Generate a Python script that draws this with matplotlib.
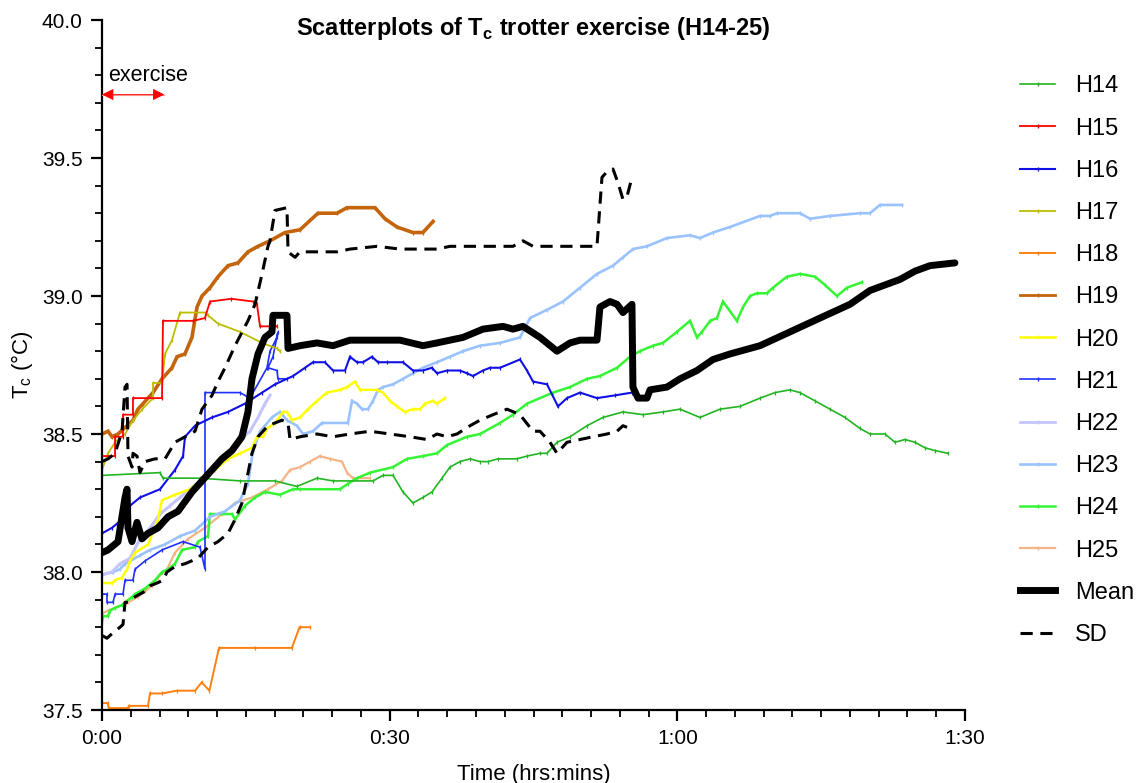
import matplotlib
matplotlib.use("Agg")
import matplotlib.pyplot as plt
from matplotlib.ticker import MultipleLocator, FuncFormatter
from matplotlib.lines import Line2D

plt.rcParams['font.family'] = ['Liberation Sans', 'DejaVu Sans']
plt.rcParams['mathtext.fontset'] = 'custom'
plt.rcParams['mathtext.rm'] = 'Liberation Sans'
plt.rcParams['mathtext.bf'] = 'Liberation Sans:bold'

# ---------------- data (time in minutes, temperature in degC) ----------------
h14_t = [0, 6.05, 6.36, 10.22, 14.39, 18.04, 20.33, 22.42, 24.09, 28.26, 29.30, 30.35, 31.39, 32.43, 33.47,
         34.41, 35.46, 36.29, 37.33, 38.38, 39.42, 40.25, 41.30, 43.28, 44.32, 45.68, 46.41, 47.45, 48.81,
         50.58, 52.25, 54.33, 56.42, 58.50, 60.28, 62.36, 64.45, 66.53, 68.62, 70.18, 71.75, 72.79, 74.36,
         75.92, 77.48, 79.05, 80.09, 81.65, 82.70, 83.74, 84.78, 85.83, 86.87, 88.22]
h14_v = [38.35, 38.36, 38.34, 38.34, 38.33, 38.33, 38.31, 38.34, 38.33, 38.33, 38.35, 38.35, 38.29, 38.25, 38.27,
         38.29, 38.34, 38.38, 38.40, 38.41, 38.40, 38.40, 38.41, 38.41, 38.42, 38.43, 38.43, 38.47, 38.49,
         38.53, 38.56, 38.58, 38.57, 38.58, 38.59, 38.56, 38.59, 38.60, 38.63, 38.65, 38.66, 38.65, 38.62,
         38.59, 38.56, 38.52, 38.50, 38.50, 38.47, 38.48, 38.47, 38.45, 38.44, 38.43]

h15_t = [0, 0, 1.36, 1.36, 2.19, 2.19, 3.23, 3.23, 6.26, 6.36, 9.49, 10.74, 11.26, 13.5, 15.75, 16.16, 16.48, 18.25]
h15_v = [38.20, 38.42, 38.42, 38.49, 38.49, 38.57, 38.57, 38.63, 38.63, 38.91, 38.91, 38.92, 38.98, 38.99,
         38.98, 38.97, 38.89, 38.89]

h16_t = [0, 1.04, 2.09, 2.92, 3.96, 6.05, 7.61, 8.45, 8.66, 9.70, 11.47, 13.14, 14.91, 16.69, 18.04, 19.92,
         21.17, 22.00, 23.25, 24.09, 25.34, 25.86, 26.59, 27.22, 28.16, 28.78, 29.72, 31.39, 32.43, 33.47,
         34.41, 34.93, 35.98, 37.33, 38.06, 38.69, 39.73, 40.46, 41.51, 43.59, 44.32, 44.95, 46.41, 47.55,
         48.49, 49.85, 51.62, 53.50, 55.27]
h16_v = [38.14, 38.16, 38.19, 38.24, 38.27, 38.30, 38.37, 38.42, 38.49, 38.53, 38.56, 38.58, 38.61, 38.65,
         38.68, 38.71, 38.74, 38.76, 38.76, 38.73, 38.73, 38.78, 38.76, 38.76, 38.78, 38.76, 38.76, 38.76,
         38.73, 38.73, 38.74, 38.72, 38.73, 38.73, 38.72, 38.71, 38.73, 38.74, 38.74, 38.77, 38.73, 38.69,
         38.68, 38.60, 38.63, 38.65, 38.63, 38.64, 38.65]

h17_t = [0, 0.63, 1.36, 2.40, 3.23, 4.2, 5.32, 5.32, 6.26, 6.57, 7.30, 8.13, 10.74, 11.05, 12.10, 14.39,
         16.69, 18.25, 18.56]
h17_v = [38.37, 38.43, 38.47, 38.50, 38.55, 38.59, 38.63, 38.685, 38.685, 38.79, 38.84, 38.94, 38.94, 38.93,
         38.90, 38.87, 38.83, 38.81, 38.80]

h18_t = [0, 0.6, 0.7, 2.7, 2.8, 4.8, 5.0, 6.3, 7.8, 9.7, 10.4, 11.2, 12.2, 16.0, 19.8, 20.6, 21.7]
h18_v = [37.525, 37.525, 37.507, 37.507, 37.515, 37.515, 37.56, 37.56, 37.57, 37.57, 37.60, 37.57, 37.725,
         37.725, 37.725, 37.80, 37.80]

h19_t = [0, 0.63, 1.04, 1.67, 3.23, 3.75, 4.28, 5.32, 6.26, 7.30, 7.82, 8.65, 9.38, 9.91, 10.43, 11.26, 12.10,
         13.14, 14.18, 15.22, 16.27, 17.52, 19.08, 20.65, 22.52, 24.51, 25.55, 28.47, 29.51, 30.76, 32.43,
         33.47, 34.52]
h19_v = [38.50, 38.51, 38.49, 38.50, 38.55, 38.59, 38.61, 38.65, 38.70, 38.74, 38.78, 38.79, 38.85, 38.96,
         39.00, 39.03, 39.07, 39.11, 39.12, 39.16, 39.18, 39.20, 39.23, 39.24, 39.30, 39.30, 39.32, 39.32,
         39.28, 39.25, 39.23, 39.23, 39.27]

h20_t = [0, 1.04, 1.36, 2.09, 2.61, 2.92, 3.44, 4.80, 5.84, 6.26, 7.61, 9.18, 10.22, 11.78, 13.14, 14.39,
         15.64, 16.16, 16.79, 17.21, 18.04, 18.88, 19.29, 19.81, 20.65, 21.48, 22.42, 23.46, 24.82, 25.55,
         26.38, 26.90, 28.68, 29.30, 30.03, 30.76, 31.60, 32.43, 33.16, 33.68, 34.52, 34.93, 35.77]
h20_v = [37.96, 37.96, 37.97, 37.98, 38.01, 38.04, 38.07, 38.10, 38.19, 38.26, 38.28, 38.30, 38.33, 38.37,
         38.41, 38.43, 38.45, 38.49, 38.49, 38.52, 38.54, 38.58, 38.58, 38.55, 38.56, 38.59, 38.62, 38.65,
         38.66, 38.67, 38.69, 38.66, 38.66, 38.65, 38.62, 38.60, 38.58, 38.59, 38.59, 38.61, 38.62, 38.61,
         38.63]

h21_t = [0, 0.52, 0.52, 1.15, 1.36, 2.19, 2.40, 3.23, 3.44, 4.48, 6.26, 8.45, 10.22, 10.74, 10.74, 14.39,
         15.43, 17.21, 17.52, 18.25, 18.35, 17.83, 17.31, 18.25, 18.35, 19.29]
h21_v = [37.92, 37.92, 37.89, 37.89, 37.92, 37.92, 37.97, 37.97, 38.01, 38.04, 38.08, 38.11, 38.09, 38.01,
         38.65, 38.65, 38.63, 38.74, 38.80, 38.85, 38.87, 38.78, 38.74, 38.73, 38.70, 38.70]

h22_t = [0, 1.04, 1.88, 2.92, 3.96, 5.01, 6.05, 7.09, 8.13, 9.18, 10.22, 11.26, 12.31, 13.35, 14.39, 15.43,
         16.27, 17.00, 17.52]
h22_v = [37.99, 38.00, 38.03, 38.05, 38.12, 38.16, 38.21, 38.24, 38.27, 38.30, 38.33, 38.37, 38.41, 38.43,
         38.48, 38.51, 38.56, 38.61, 38.64]

h23_t = [0, 1.15, 1.88, 2.40, 2.92, 3.96, 5.01, 6.57, 8.13, 9.70, 11.26, 12.83, 14.39, 15.22, 15.75, 16.48,
         17.73, 18.56, 19.29, 20.33, 20.96, 22.00, 22.94, 25.65, 26.07, 26.59, 27.11, 27.74, 28.26, 28.78,
         29.30, 30.35, 31.39, 32.43, 33.47, 34.93, 36.29, 37.65, 39.42, 41.51, 43.59, 44.63, 46.41, 48.08,
         49.85, 51.62, 53.29, 54.33, 55.37, 56.83, 58.92, 61.32, 62.36, 63.72, 65.49, 68.62, 69.66, 70.39,
         72.79, 73.83, 75.92, 79.05, 80.09, 81.13, 83.43]
h23_v = [37.99, 38.00, 38.01, 38.03, 38.04, 38.06, 38.08, 38.10, 38.13, 38.15, 38.20, 38.22, 38.26, 38.32,
         38.44, 38.51, 38.56, 38.58, 38.55, 38.53, 38.50, 38.51, 38.54, 38.54, 38.62, 38.61, 38.59, 38.59,
         38.62, 38.66, 38.67, 38.68, 38.70, 38.72, 38.74, 38.76, 38.78, 38.80, 38.82, 38.83, 38.85, 38.92,
         38.95, 38.98, 39.03, 39.08, 39.11, 39.14, 39.17, 39.18, 39.21, 39.22, 39.21, 39.23, 39.25, 39.29,
         39.29, 39.30, 39.30, 39.28, 39.29, 39.30, 39.30, 39.33, 39.33]

h24_t = [0, 0.10, 0.63, 0.83, 1.36, 2.09, 2.40, 3.13, 3.44, 4.48, 5.53, 6.26, 6.88, 7.61, 8.34, 9.70, 10.01,
         11.05, 11.26, 13.56, 13.87, 14.91, 15.96, 17.00, 18.56, 19.92, 20.65, 24.82, 25.65, 26.59, 27.95,
         30.35, 31.81, 33.47, 34.93, 35.98, 38.06, 39.42, 41.51, 42.86, 44.32, 47.03, 48.81, 50.58, 51.93,
         53.71, 55.06, 56.10, 57.46, 58.50, 59.96, 61.32, 62.05, 62.57, 63.41, 64.13, 64.76, 66.22, 66.85,
         67.58, 68.31, 69.35, 69.97, 71.43, 72.79, 74.36, 75.40, 76.65, 77.69, 79.26]
h24_v = [37.82, 37.84, 37.84, 37.86, 37.87, 37.88, 37.89, 37.91, 37.92, 37.94, 37.97, 38.00, 38.01, 38.03,
         38.08, 38.09, 38.11, 38.13, 38.21, 38.21, 38.19, 38.24, 38.27, 38.29, 38.28, 38.30, 38.30, 38.30,
         38.32, 38.34, 38.36, 38.38, 38.41, 38.42, 38.43, 38.46, 38.49, 38.50, 38.54, 38.57, 38.61, 38.65,
         38.67, 38.70, 38.71, 38.74, 38.78, 38.80, 38.82, 38.83, 38.87, 38.91, 38.85, 38.87, 38.91, 38.92,
         38.98, 38.91, 38.96, 39.00, 39.01, 39.01, 39.03, 39.07, 39.08, 39.07, 39.04, 39.00, 39.03, 39.05]

h25_t = [0, 0.63, 2.71, 3.75, 4.48, 5.21, 5.84, 6.78, 7.61, 8.97, 10.74, 12.51, 13.87, 15.64, 17.31, 18.77,
         19.61, 20.65, 21.69, 22.73, 23.78, 25.03, 25.55, 26.17, 27.95]
h25_v = [37.85, 37.86, 37.89, 37.91, 37.93, 37.95, 37.98, 38.01, 38.07, 38.12, 38.16, 38.21, 38.25, 38.27,
         38.30, 38.33, 38.37, 38.38, 38.40, 38.42, 38.41, 38.40, 38.36, 38.34, 38.34]

mean_t = [0, 0.63, 1.67, 2.40, 2.61, 2.71, 3.13, 3.65, 4.17, 4.80, 5.84, 6.88, 7.93, 9.39, 10.43, 11.47, 12.51,
          13.56, 14.60, 15.22, 15.64, 16.27, 17.00, 17.73, 17.83, 19.29, 19.40, 20.65, 22.42, 24.09, 25.86,
          27.95, 31.08, 33.47, 34.93, 36.29, 37.65, 39.73, 41.82, 42.86, 43.90, 45.68, 47.45, 48.81, 49.85,
          51.62, 51.93, 52.98, 53.71, 54.33, 55.27, 55.37, 55.90, 56.83, 57.15, 58.92, 60.28, 62.05, 63.72,
          65.49, 68.62, 71.75, 74.87, 78.01, 80.09, 81.65, 83.22, 84.78, 86.35, 88.95]
mean_v = [38.07, 38.08, 38.11, 38.27, 38.30, 38.16, 38.11, 38.18, 38.12, 38.14, 38.16, 38.20, 38.22, 38.29,
          38.33, 38.37, 38.41, 38.44, 38.49, 38.58, 38.70, 38.79, 38.85, 38.87, 38.93, 38.93, 38.81, 38.82,
          38.83, 38.82, 38.84, 38.84, 38.84, 38.82, 38.83, 38.84, 38.85, 38.88, 38.89, 38.88, 38.89, 38.85,
          38.80, 38.83, 38.84, 38.84, 38.96, 38.98, 38.97, 38.94, 38.97, 38.67, 38.63, 38.63, 38.66, 38.67,
          38.70, 38.73, 38.77, 38.79, 38.82, 38.87, 38.92, 38.97, 39.02, 39.04, 39.06, 39.09, 39.11, 39.12]

sd_hi_t = [0, 0.63, 1.36, 2.09, 2.40, 2.61, 2.71, 3.13, 3.23, 3.65, 3.96, 4.48, 5.53, 6.57, 7.61, 8.66, 9.70,
           10.43, 11.47, 12.10, 12.83, 13.87, 15.22, 15.96, 16.69, 17.31, 17.52, 18.04, 19.29, 19.40, 20.13,
           20.65, 22.42, 24.51, 25.86, 28.68, 31.08, 33.47, 34.93, 36.29, 38.06, 41.51, 42.86, 43.90, 44.95,
           47.45, 51.62, 52.14, 52.66, 53.29, 53.81, 54.33, 54.75, 55.27]
sd_hi_v = [38.40, 38.41, 38.43, 38.51, 38.67, 38.68, 38.42, 38.38, 38.43, 38.42, 38.36, 38.40, 38.41, 38.41,
           38.47, 38.49, 38.51, 38.59, 38.64, 38.69, 38.74, 38.82, 38.91, 38.97, 39.08, 39.18, 39.20, 39.31,
           39.32, 39.16, 39.14, 39.16, 39.16, 39.16, 39.17, 39.18, 39.17, 39.17, 39.17, 39.18, 39.18, 39.18,
           39.18, 39.20, 39.18, 39.18, 39.18, 39.43, 39.45, 39.46, 39.41, 39.35, 39.36, 39.43]

sd_lo_t = [0, 0.52, 1.15, 1.88, 2.19, 2.40, 2.71, 3.44, 3.96, 4.48, 5.01, 5.74, 6.36, 6.78, 7.61, 8.66, 10.01,
           11.05, 12.10, 13.14, 13.87, 14.60, 15.12, 15.64, 16.27, 17.31, 18.77, 19.40, 19.61, 20.65, 22.42,
           24.09, 25.86, 27.95, 30.03, 32.12, 33.89, 34.93, 35.98, 37.02, 38.38, 39.42, 40.78, 42.24, 43.59,
           44.95, 45.68, 46.72, 47.45, 48.49, 49.85, 51.20, 52.66, 53.71, 54.33, 55.06, 55.37]
sd_lo_v = [37.77, 37.76, 37.78, 37.80, 37.81, 37.89, 37.89, 37.91, 37.92, 37.93, 37.95, 37.96, 37.97, 38.00,
           38.02, 38.03, 38.05, 38.09, 38.11, 38.14, 38.19, 38.25, 38.34, 38.43, 38.49, 38.53, 38.55, 38.54,
           38.48, 38.49, 38.50, 38.49, 38.50, 38.51, 38.50, 38.49, 38.48, 38.50, 38.49, 38.50, 38.53, 38.55,
           38.57, 38.59, 38.57, 38.51, 38.51, 38.47, 38.43, 38.47, 38.48, 38.49, 38.50, 38.51, 38.53, 38.52,
           38.51]

series_names = ["H14", "H15", "H16", "H17", "H18", "H19", "H20", "H21", "H22", "H23", "H24", "H25"]
series_colors = ["#22B522", "#FF0000", "#1010E6", "#BDBD00", "#FF8010", "#C4640C",
                 "#FFFF00", "#2030FF", "#C4C4FF", "#99C2FF", "#33F533", "#F5B486"]
series_widths = [1.2, 1.3, 1.5, 1.3, 1.4, 2.6, 1.8, 1.2, 2.2, 1.9, 1.8, 1.6]
series_data = [(h14_t, h14_v), (h15_t, h15_v), (h16_t, h16_v), (h17_t, h17_v), (h18_t, h18_v),
               (h19_t, h19_v), (h20_t, h20_v), (h21_t, h21_v), (h22_t, h22_v), (h23_t, h23_v),
               (h24_t, h24_v), (h25_t, h25_v)]

exercise_span = [0, 6.5]
exercise_level = 39.73

# ---------------- figure ----------------
fig = plt.figure(figsize=(11.43, 7.83), dpi=100)
ax = fig.add_axes([102 / 1143, 73 / 783, 863 / 1143, 690 / 783])

handles = []
draw_order = [11, 10, 9, 8, 7, 6, 5, 4, 3, 2, 1, 0]
for i in draw_order:
    t, v = series_data[i]
    ax.plot(t, v, color=series_colors[i], lw=series_widths[i], marker='|', ms=3, mew=0.9,
            solid_joinstyle='miter', zorder=2)
for i in range(12):
    handles.append(Line2D([], [], color=series_colors[i], lw=min(series_widths[i], 2.0),
                          marker='|', ms=3, mew=1.0, label=series_names[i]))

ax.plot(mean_t, mean_v, color='black', lw=5, solid_joinstyle='round', solid_capstyle='round', zorder=4)
ax.plot(sd_hi_t, sd_hi_v, color='black', lw=2.2, ls=(0, (4, 2.5)), zorder=3)
ax.plot(sd_lo_t, sd_lo_v, color='black', lw=2.2, ls=(0, (4, 2.5)), zorder=3)

handles.append(Line2D([], [], color='black', lw=5, label='Mean'))
handles.append(Line2D([], [], color='black', lw=2.2, ls=(0, (4, 2.5)), label='SD'))

# exercise arrow
ax.plot(exercise_span, [exercise_level] * 2, color='#FF9090', lw=0.8, zorder=4)
ax.annotate('', xy=(exercise_span[1], exercise_level), xytext=(exercise_span[0], exercise_level),
            arrowprops=dict(arrowstyle='<|-|>', color='red', lw=0.6, mutation_scale=18,
                            shrinkA=0, shrinkB=0), zorder=5)
ax.text(0.6, 39.78, 'exercise', fontsize=15.5, ha='left', va='baseline')

# axes styling
ax.set_xlim(0, 90)
ax.set_ylim(37.5, 40.0)
ax.xaxis.set_major_locator(MultipleLocator(30))
ax.xaxis.set_minor_locator(MultipleLocator(3))
ax.yaxis.set_major_locator(MultipleLocator(0.5))
ax.yaxis.set_minor_locator(MultipleLocator(0.1))
ax.xaxis.set_major_formatter(FuncFormatter(lambda x, p: f"{int(x // 60)}:{int(x % 60):02d}"))
ax.yaxis.set_major_formatter(FuncFormatter(lambda y, p: f"{y:.1f}"))
for s in ['top', 'right']:
    ax.spines[s].set_visible(False)
for s in ['left', 'bottom']:
    ax.spines[s].set_linewidth(1.6)
ax.tick_params(which='major', length=8, width=1.6, labelsize=15, pad=6)
ax.tick_params(which='minor', length=5, width=1.3)

ax.set_xlabel('Time (hrs:mins)', fontsize=16, labelpad=11)
ax.set_ylabel('T$_\\mathregular{c}$ (°C)', fontsize=16, labelpad=5)
fig.text(533 / 1143, 1 - 28 / 783, 'Scatterplots of T$_\\mathbf{c}$ trotter exercise (H14-25)',
         fontsize=17, fontweight='bold', ha='center', va='center')

fig.legend(handles=handles, loc='upper left', bbox_to_anchor=(1011 / 1143, 1 - 66 / 783),
           frameon=False, fontsize=17, handlelength=1.45, handletextpad=0.85, labelspacing=0.855,
           borderaxespad=0)

fig.savefig('out.png', dpi=100)
